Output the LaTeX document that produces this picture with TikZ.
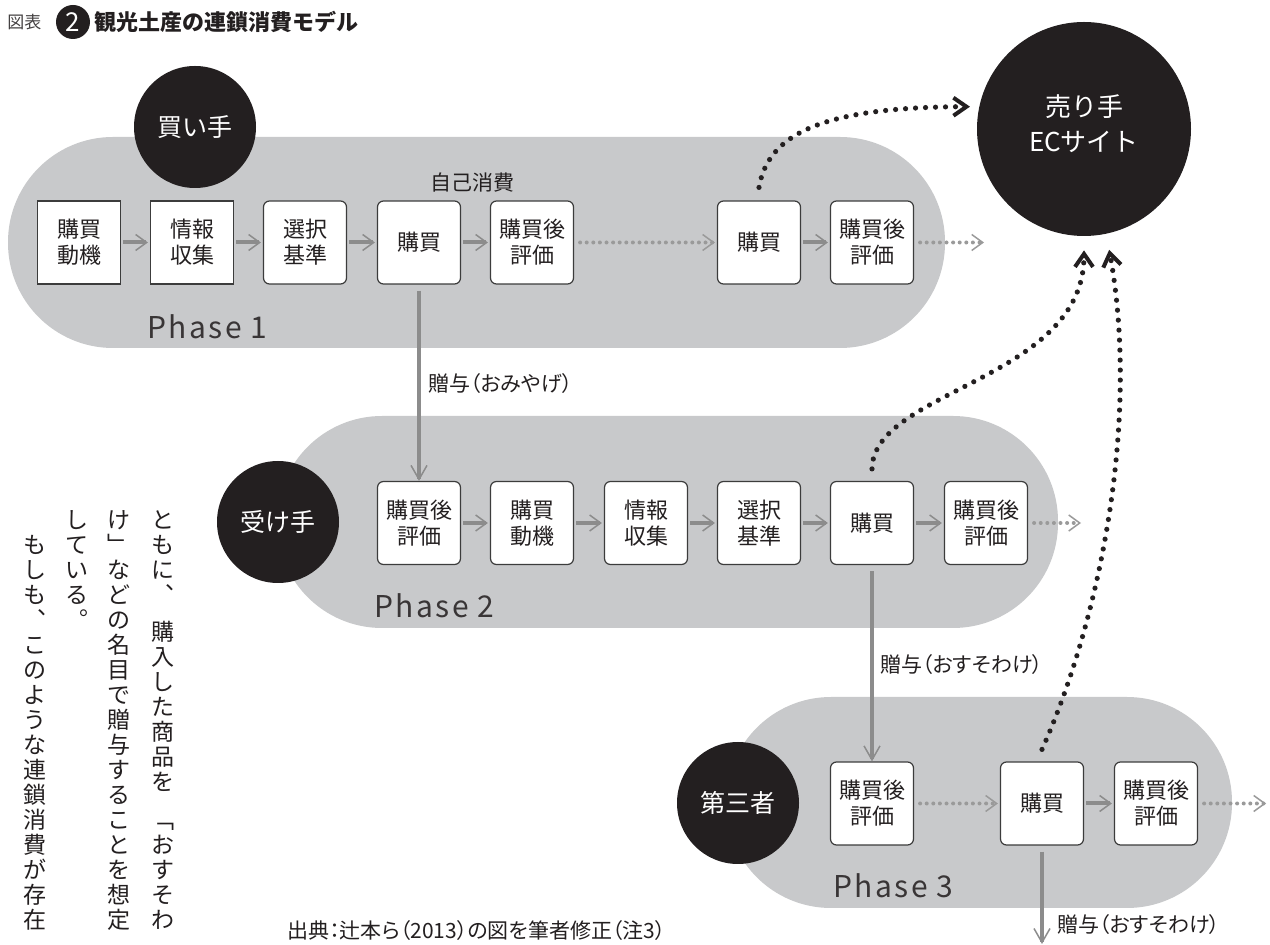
\documentclass[tikz,border=0pt]{standalone}
\usepackage{fontspec}
\setmainfont{Noto Sans CJK JP}
\newfontfamily\pfont[RawFeature=+palt]{Noto Sans CJK JP}
\usetikzlibrary{arrows.meta,calc}
\definecolor{pill}{HTML}{C8C9CB}
\definecolor{ink}{HTML}{231F20}
\definecolor{arrowgray}{HTML}{8C8C8C}
\definecolor{dotgray}{HTML}{9A9A9A}
\definecolor{boxline}{HTML}{3C3C3C}
\begin{document}
\begin{tikzpicture}[x=0.5pt,y=-0.5pt,
  stage/.style={draw=boxline, line width=0.6pt, fill=white, minimum width=41.5pt, minimum height=41.5pt, inner sep=0pt, align=center, font=\fontsize{11pt}{13pt}\selectfont, text=ink, rounded corners=3pt},
  sqstage/.style={stage, sharp corners},
  actor/.style={circle, fill=ink, text=white, minimum size=61pt, inner sep=0pt, font=\fontsize{12.5pt}{14pt}\selectfont},
  flow/.style={arrowgray, line width=2pt, -{Straight Barb[length=5.5pt,width=8pt,line width=0.75pt]}, shorten <=1pt, shorten >=1pt},
  dotflow/.style={dotgray, line width=2pt, line cap=round, dash pattern=on 0pt off 3.3pt, -{Straight Barb[length=5.5pt,width=8pt,line width=0.75pt]}},
  gift/.style={arrowgray, line width=2pt, -{Straight Barb[length=7pt,width=8pt,line width=0.75pt]}},
  ecflow/.style={ink, line width=2.6pt, line cap=round, dash pattern=on 0pt off 5pt, -{Straight Barb[length=6.5pt,width=9pt,line width=2pt]}},
  lbl/.style={font=\pfont\fontsize{10.5pt}{12pt}\selectfont, inner sep=0pt, text=ink},
  phase/.style={font=\fontsize{15pt}{17pt}\selectfont\addfontfeatures{LetterSpace=8}, inner sep=0pt, anchor=west, text=ink!90},
  vcol/.style={anchor=north, inner sep=0pt, align=center, font=\fontsize{11.5pt}{12.5pt}\selectfont, text=ink},
]
\useasboundingbox (0,0) rectangle (1270,945);
\fill[white] (0,0) rectangle (1270,945);

% title
\node[anchor=west, inner sep=0pt, font=\fontsize{8.5pt}{10pt}\selectfont, text=ink!85] (fig) at (7,22) {図表};
\node[circle, fill=ink, minimum size=17pt, inner sep=0pt, text=white, font=\fontsize{13pt}{14pt}\selectfont] (num) at (73,22) {2};
\node[anchor=west, inner sep=0pt, font=\bfseries\fontsize{11pt}{13pt}\selectfont, text=ink] (title) at (94,22) {観光土産の連鎖消費モデル};

% phase bands
\fill[pill, rounded corners=52.5pt] (8,137) rectangle (945,348);
\fill[pill, rounded corners=52.5pt] (277,416) rectangle (1058,628);
\fill[pill, rounded corners=52.5pt] (726,697) rectangle (1232,908);

% actors
\node[actor] (buyer) at (195,127) {買い手};
\node[actor] (receiver) at (278,522) {受け手};
\node[actor] (third) at (738,803) {第三者};
\node[actor, minimum size=107pt, label={[text=white, align=center, inner sep=0pt, yshift=2.5pt, font=\fontsize{13pt}{17.5pt}\selectfont]center:売り手\\ECサイト}] (seller) at (1084,129) {};

% phase labels
\node[phase] (ph1) at (147,327) {Phase 1};
\node[phase] (ph2) at (374,606) {Phase 2};
\node[phase] (ph3) at (833,886) {Phase 3};

% phase 1 stages
\node[sqstage] (p1a) at (79,242.5) {購買\\動機};
\node[sqstage] (p1b) at (192,242.5) {情報\\収集};
\node[stage] (p1c) at (305,242.5) {選択\\基準};
\node[stage] (p1d) at (419,242.5) {購買};
\node[stage] (p1e) at (532,242.5) {購買後\\評価};
\node[stage] (p1f) at (759,242.5) {購買};
\node[stage] (p1g) at (872,242.5) {購買後\\評価};
\node[lbl] (self) at (472,183) {自己消費};

% phase 2 stages
\node[stage] (p2a) at (419,523) {購買後\\評価};
\node[stage] (p2b) at (532,523) {購買\\動機};
\node[stage] (p2c) at (646,523) {情報\\収集};
\node[stage] (p2d) at (759,523) {選択\\基準};
\node[stage] (p2e) at (872,523) {購買};
\node[stage] (p2f) at (986,523) {購買後\\評価};

% phase 3 stages
\node[stage] (p3a) at (872,803.5) {購買後\\評価};
\node[stage] (p3b) at (1042,803.5) {購買};
\node[stage] (p3c) at (1156,803.5) {購買後\\評価};

% flows phase 1
\draw[flow] (p1a) -- (p1b);
\draw[flow] (p1b) -- (p1c);
\draw[flow] (p1c) -- (p1d);
\draw[flow] (p1d) -- (p1e);
\draw[dotflow] ([xshift=3pt]p1e.east) -- ([xshift=-1pt]p1f.west);
\draw[flow] (p1f) -- (p1g);
\coordinate (p1end) at (984,242.5);
\draw[dotflow] ([xshift=3pt]p1g.east) -- (p1end);

% flows phase 2
\draw[flow] (p2a) -- (p2b);
\draw[flow] (p2b) -- (p2c);
\draw[flow] (p2c) -- (p2d);
\draw[flow] (p2d) -- (p2e);
\draw[flow] (p2e) -- (p2f);
\coordinate (p2end) at (1081,523);
\draw[dotflow] ([xshift=3pt]p2f.east) -- (p2end);

% flows phase 3
\draw[dotflow] ([xshift=3pt]p3a.east) -- ([xshift=-1pt]p3b.west);
\draw[flow] (p3b) -- (p3c);
\coordinate (p3end) at (1266,803.5);
\draw[dotflow] ([xshift=3pt]p3c.east) -- (p3end);

% gifts
\draw[gift] ([yshift=-3pt]p1d.south) -- (p2a.north);
\node[lbl, anchor=west] (g1) at (428,384) {贈与（おみやげ）};
\draw[gift] ([yshift=-3pt]p2e.south) -- (p3a.north);
\node[lbl, anchor=west] (g2) at (880,665) {贈与（おすそわけ）};
\coordinate (giftend) at (1042,944);
\draw[gift] ([yshift=-3pt]p3b.south) -- (giftend);
\node[lbl, anchor=west] (g3) at (1057,925) {贈与（おすそわけ）};

% EC flows
\draw[ecflow, shorten >=4.5pt] ([yshift=6.5pt]p1f.north) .. controls (768,135) and (820,107) .. (seller.168);
\draw[ecflow, shorten >=7pt] ([yshift=6pt]p2e.north) .. controls (873,390) and (1084,380) .. (seller.south);
\draw[ecflow, shorten >=8pt] ([yshift=6pt]p3b.north) .. controls (1100,620) and (1140,420) .. (seller.-78);

% vertical body text
\node[vcol] (col1) at (163,510) {と\\も\\に\\︑\\[6.25pt]購\\入\\し\\た\\商\\品\\を\\[6.25pt]﹁\\お\\す\\そ\\わ};
\node[vcol] (col2) at (119,510) {け\\﹂\\な\\ど\\の\\名\\目\\で\\贈\\与\\す\\る\\こ\\と\\を\\想\\定};
\node[vcol] (col3) at (77,510) {し\\て\\い\\る\\︒};
\node[vcol] (col4) at (35,535) {も\\し\\も\\︑\\こ\\の\\よ\\う\\な\\連\\鎖\\消\\費\\が\\存\\在};

% source
\node[lbl, anchor=west] (src) at (287,931) {出典：辻本ら（2013）の図を筆者修正（注3）};
\end{tikzpicture}
\end{document}
